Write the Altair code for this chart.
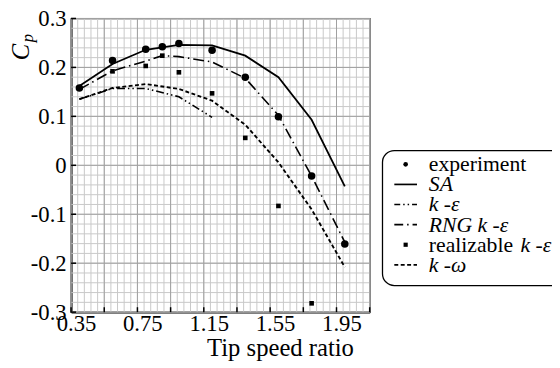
import altair as alt
import pandas as pd

# ---------------- data ----------------
tsr_exp = [0.4, 0.6, 0.8, 0.9, 1.0, 1.2, 1.4, 1.6, 1.8, 2.0]
cp_exp = [0.158, 0.214, 0.237, 0.242, 0.249, 0.235, 0.180, 0.099, -0.022, -0.161]

tsr_sa = [0.4, 0.6, 0.8, 1.0, 1.2, 1.4, 1.6, 1.8, 2.0]
cp_sa = [0.162, 0.207, 0.236, 0.246, 0.245, 0.224, 0.180, 0.093, -0.043]

tsr_ke = [0.4, 0.6, 0.8, 1.0, 1.2]
cp_ke = [0.135, 0.157, 0.157, 0.140, 0.098]

tsr_rng = [0.4, 0.6, 0.8, 0.9, 1.0, 1.2, 1.4, 1.6, 1.8, 2.0]
cp_rng = [0.155, 0.193, 0.213, 0.224, 0.222, 0.211, 0.178, 0.102, -0.022, -0.157]

tsr_real = [0.6, 0.8, 0.9, 1.0, 1.2, 1.4, 1.6, 1.8]
cp_real = [0.192, 0.203, 0.224, 0.190, 0.147, 0.056, -0.083, -0.282]

tsr_kw = [0.4, 0.6, 0.8, 1.0, 1.2, 1.4, 1.6, 1.8, 2.0]
cp_kw = [0.135, 0.158, 0.166, 0.156, 0.132, 0.083, 0.006, -0.090, -0.208]

x_labels = [0.35, 0.75, 1.15, 1.55, 1.95]
x_ticks = [0.35, 0.55, 0.75, 0.95, 1.15, 1.35, 1.55, 1.75, 1.95, 2.15]
y_ticks = [-0.3, -0.2, -0.1, 0.0, 0.1, 0.2, 0.3]
x_domain = [0.35, 2.15]
y_domain = [-0.3, 0.3]

legend_labels = ["experiment", "SA", "k -ε", "RNG k -ε", "realizable", "k -ω"]

x_grid = [round(0.35 + 0.04 * i, 4) for i in range(46)]
y_grid = [round(-0.3 + 0.02 * i, 4) for i in range(31)]

# ---------------- layout ----------------
W, H = 303, 298
FONT = "Liberation Serif"

xs = alt.Scale(domain=x_domain, nice=False, zero=False)
ys = alt.Scale(domain=y_domain, nice=False, zero=False)

x_axis = alt.Axis(
    values=x_labels,
    format=".2f",
    title=None,
    grid=False,
    ticks=False,
    domain=True,
    domainColor="black",
    domainWidth=2,
    labelFont=FONT,
    labelFontSize=23,
    labelColor="black",
    labelPadding=1,
    labelOffset=5,
    labelFlush=False,
    labelOverlap=False,
)
y_axis = alt.Axis(
    values=y_ticks,
    labelExpr="abs(datum.value) < 1e-9 ? '0' : (datum.value < 0 ? '-' : '') + format(abs(datum.value), '.1f')",
    title=None,
    grid=False,
    ticks=False,
    domain=True,
    domainColor="black",
    domainWidth=2,
    labelFont=FONT,
    labelFontSize=23,
    labelColor="black",
    labelPadding=5,
    labelFlush=False,
    labelOverlap=False,
)


def X(f):
    return alt.X(f, type="quantitative", scale=xs, axis=x_axis)


def Y(f):
    return alt.Y(f, type="quantitative", scale=ys, axis=y_axis)


one = pd.DataFrame({"a": [0]})

layers = []

# grid
layers.append(alt.Chart(pd.DataFrame({"x": x_grid})).mark_rule(color="#c8c8c8", strokeWidth=1).encode(x=X("x")))
layers.append(alt.Chart(pd.DataFrame({"y": y_grid})).mark_rule(color="#c8c8c8", strokeWidth=1).encode(y=Y("y")))
layers.append(alt.Chart(pd.DataFrame({"x": x_ticks})).mark_rule(color="#a0a0a0", strokeWidth=1).encode(x=X("x")))
layers.append(alt.Chart(pd.DataFrame({"y": y_ticks})).mark_rule(color="#a0a0a0", strokeWidth=1).encode(y=Y("y")))

# inward ticks
layers.append(
    alt.Chart(pd.DataFrame({"x": x_ticks}))
    .mark_rule(color="black", strokeWidth=1.5)
    .encode(x=X("x"), y=alt.value(H), y2=alt.value(H - 5))
)
layers.append(
    alt.Chart(pd.DataFrame({"y": y_ticks}))
    .mark_rule(color="black", strokeWidth=1.5)
    .encode(y=Y("y"), x=alt.value(0), x2=alt.value(5))
)


def line(xv, yv, dash=None, width=1.6):
    df = pd.DataFrame({"x": xv, "y": yv})
    kw = dict(color="black", strokeWidth=width)
    if dash:
        kw["strokeDash"] = dash
    return alt.Chart(df).mark_line(**kw).encode(x=X("x"), y=Y("y"))


layers.append(line(tsr_sa, cp_sa, None, 1.8))
layers.append(line(tsr_ke, cp_ke, [8, 3, 1.5, 3, 1.5, 3], 1.6))
layers.append(line(tsr_rng, cp_rng, [11, 4, 1.5, 4], 1.6))
layers.append(line(tsr_kw, cp_kw, [4, 2.5], 1.9))

layers.append(
    alt.Chart(pd.DataFrame({"x": tsr_real, "y": cp_real}))
    .mark_point(shape="square", filled=True, color="black", size=22, opacity=1)
    .encode(x=X("x"), y=Y("y"))
)
layers.append(
    alt.Chart(pd.DataFrame({"x": tsr_exp, "y": cp_exp}))
    .mark_circle(color="black", size=58, opacity=1)
    .encode(x=X("x"), y=Y("y"))
)

# axis titles
layers.append(
    alt.Chart(one)
    .mark_text(font=FONT, fontSize=25, color="black", align="center", baseline="alphabetic")
    .encode(x=alt.value(212.5), y=alt.value(343), text=alt.value("Tip speed ratio"))
)
layers.append(
    alt.Chart(one)
    .mark_text(font=FONT, fontSize=25, fontStyle="italic", color="black", align="center",
               baseline="middle", angle=270)
    .encode(x=alt.value(-51), y=alt.value(34), text=alt.value("C"))
)
layers.append(
    alt.Chart(one)
    .mark_text(font=FONT, fontSize=17, fontStyle="italic", color="black", align="center",
               baseline="middle", angle=270)
    .encode(x=alt.value(-44), y=alt.value(20), text=alt.value("p"))
)

# legend
LX0, LX1 = 316, 505
LY0, LY1 = 134, 271
layers.append(
    alt.Chart(one)
    .mark_rect(fill="white", stroke="black", strokeWidth=1.3, cornerRadius=12)
    .encode(x=alt.value(LX0), x2=alt.value(LX1), y=alt.value(LY0), y2=alt.value(LY1))
)
row_y = [148 + 20.4 * i for i in range(6)]
SYM_X, SYM_X0, SYM_X1, TXT_X = 339.5, 328, 351, 363

layers.append(
    alt.Chart(one).mark_circle(color="black", size=22, opacity=1)
    .encode(x=alt.value(SYM_X), y=alt.value(row_y[0]))
)
leg_dashes = {1: None, 2: [6, 3, 1.5, 3, 1.5, 3], 3: [9, 4, 1.5, 4], 5: [4, 2.5]}
for i, d in leg_dashes.items():
    kw = dict(color="black", strokeWidth=1.7)
    if d:
        kw["strokeDash"] = d
    layers.append(
        alt.Chart(one).mark_rule(**kw)
        .encode(x=alt.value(SYM_X0), x2=alt.value(SYM_X1), y=alt.value(row_y[i]))
    )
layers.append(
    alt.Chart(one).mark_point(shape="square", filled=True, color="black", size=18, opacity=1)
    .encode(x=alt.value(SYM_X), y=alt.value(row_y[4]))
)

styles = ["normal", "italic", "italic", "italic", "normal", "italic"]
for i, (lab, st) in enumerate(zip(legend_labels, styles)):
    layers.append(
        alt.Chart(one)
        .mark_text(font=FONT, fontSize=22, fontStyle=st, color="black", align="left", baseline="middle")
        .encode(x=alt.value(TXT_X), y=alt.value(row_y[i]), text=alt.value(lab))
    )
layers.append(
    alt.Chart(one)
    .mark_text(font=FONT, fontSize=22, fontStyle="italic", color="black", align="left", baseline="middle")
    .encode(x=alt.value(TXT_X + 93), y=alt.value(row_y[4]), text=alt.value("k -ε"))
)

chart = (
    alt.layer(*layers)
    .properties(
        width=W,
        height=H,
        autosize=alt.AutoSizeParams(type="none"),
        padding={"left": 64, "top": 8, "right": 185, "bottom": 50},
        background="white",
    )
    .configure_view(stroke="black", strokeWidth=1.3)
)

chart.save("out.html", embed_options={"renderer": "svg", "actions": False})
